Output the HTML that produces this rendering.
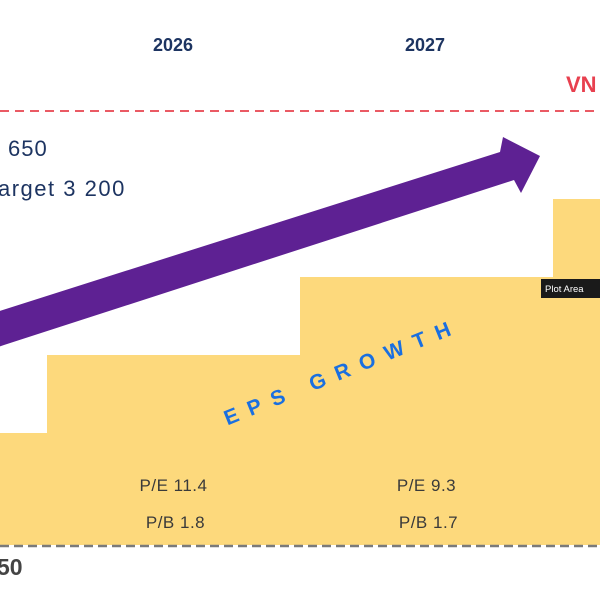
<!DOCTYPE html>
<html><head><meta charset="utf-8"><style>
html,body{margin:0;padding:0;background:#fff;}
svg{display:block;font-family:"Liberation Sans",sans-serif;}
</style></head><body>
<svg id="chart" width="600" height="600" viewBox="0 0 600 600">
<g id="bars"></g>
<line x1="0" y1="111" x2="600" y2="111" stroke="#ea5a64" stroke-width="2" stroke-dasharray="9,6"/>
<line x1="0" y1="546" x2="600" y2="546" stroke="#7a7a7a" stroke-width="2.5" stroke-dasharray="9,5"/>
<polygon points="-10,314 500,152 503,137 540,156 521,193 514,180 4,345 -10,350" fill="#5e2193"/>
<text x="173" y="51" text-anchor="middle" font-size="18" font-weight="bold" fill="#1d3461">2026</text>
<text x="425" y="51" text-anchor="middle" font-size="18" font-weight="bold" fill="#1d3461">2027</text>
<text x="566" y="92" font-size="22" font-weight="bold" fill="#e8404f">VN</text>
<text x="8" y="156" font-size="22" letter-spacing="1" fill="#1d3461">650</text>
<text x="-2" y="196" font-size="22" letter-spacing="1.5" fill="#1d3461">arget 3 200</text>
<text x="0" y="0" transform="translate(345,378) rotate(-22)" text-anchor="middle" font-size="21" font-weight="bold" letter-spacing="11" fill="#1a6fe0">EPS GROWTH</text>
<g id="labels"></g>
<text x="-3" y="575" font-size="23" font-weight="bold" fill="#444">50</text>
<rect x="541" y="279" width="62" height="19" fill="#1a1a1a"/>
<text x="545" y="292" font-size="9.5" fill="#fff">Plot Area</text>
</svg>
<script>
const categories=["2025","2026","2027","2028"];
const epsValues=[112,190,268,346];
const peLabels=["","P/E 11.4","P/E 9.3",""];
const pbLabels=["","P/B 1.8","P/B 1.7",""];
const NS="http://www.w3.org/2000/svg";
const x0=-206, bw=253, base=545;
function xPos(i){return x0+i*bw;}
function yPos(v){return base-v;}
const bars=document.getElementById('bars');
const labels=document.getElementById('labels');
epsValues.forEach((v,i)=>{
  const r=document.createElementNS(NS,'rect');
  r.setAttribute('x',xPos(i));r.setAttribute('y',yPos(v));
  r.setAttribute('width',bw+1);r.setAttribute('height',base-yPos(v));
  r.setAttribute('fill','#fdd97c');
  
  
  bars.appendChild(r);
  [[peLabels[i],491],[pbLabels[i],528]].forEach(([t,y],k)=>{
    if(!t)return;
    const tx=document.createElementNS(NS,'text');
    tx.setAttribute('x',xPos(i)+bw/2+(k?2:0));tx.setAttribute('y',y);
    tx.setAttribute('text-anchor','middle');tx.setAttribute('font-size','17');
    tx.setAttribute('letter-spacing','0.5');
    tx.setAttribute('fill','#3a3a3a');
    tx.textContent=t;
    
    
    labels.appendChild(tx);
  });
});
</script>
</body></html>
